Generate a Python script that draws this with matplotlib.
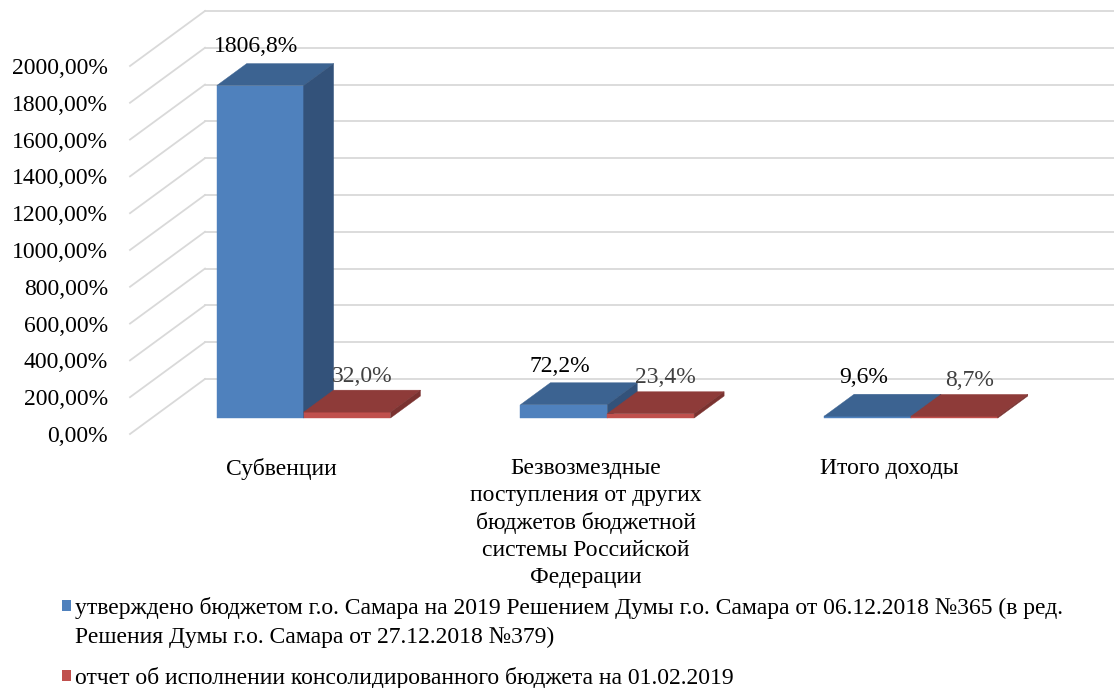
import matplotlib.pyplot as plt
from matplotlib.patches import Polygon, Rectangle

plt.rcParams['font.family'] = ['Liberation Serif', 'DejaVu Serif']

categories = ["Субвенции",
              "Безвозмездные\nпоступления от других\nбюджетов бюджетной\nсистемы Российской\nФедерации",
              "Итого доходы"]
approved = [1806.8, 72.2, 9.6]
report = [32.0, 23.4, 8.7]
approved_lbl = ["1806,8%", "72,2%", "9,6%"]
report_lbl = ["32,0%", "23,4%", "8,7%"]
yticks = list(range(0, 2001, 200))
series_names = ["утверждено бюджетом г.о. Самара на 2019 Решением Думы г.о. Самара от 06.12.2018 №365 (в ред.\n"
                "Решения Думы г.о. Самара от 27.12.2018 №379)",
                "отчет об исполнении консолидированного бюджета на 01.02.2019"]

# colours (front, top, side)
blue = ("#4F81BD", "#3C6391", "#33527A")
red = ("#C0504D", "#8E3B39", "#7A3230")
grid_c = "#D9D9D9"

# full depth of the 3d box in data units, and where the bars sit in it
DX = 0.247
DY = 299.0
D0, D1 = 0.29, 0.69
BW = 0.286

fig = plt.figure(figsize=(11.14, 6.88), dpi=100)
ax = fig.add_axes([0.1167, 0.3692, 0.8178, 0.5349])
ax.set_xlim(0, 3)
ax.set_ylim(0, 2000)
for s in ax.spines.values():
    s.set_visible(False)

# walls: side wall slants + back wall lines
for v in yticks:
    ax.plot([0, DX], [v, v + DY], color=grid_c, lw=1.3, clip_on=False, zorder=1)
    ax.plot([DX, 3 + DX], [v + DY, v + DY], color=grid_c, lw=1.3, clip_on=False, zorder=1)


def bar3d(x0, w, h, cols, z):
    ox0, oy0 = D0 * DX, D0 * DY
    ox1, oy1 = D1 * DX, D1 * DY
    front = [(x0 + ox0, oy0), (x0 + w + ox0, oy0), (x0 + w + ox0, h + oy0), (x0 + ox0, h + oy0)]
    top = [(x0 + ox0, h + oy0), (x0 + w + ox0, h + oy0), (x0 + w + ox1, h + oy1), (x0 + ox1, h + oy1)]
    side = [(x0 + w + ox0, oy0), (x0 + w + ox1, oy1), (x0 + w + ox1, h + oy1), (x0 + w + ox0, h + oy0)]
    for pts, c in zip([front, top, side], cols):
        ax.add_patch(Polygon(pts, closed=True, facecolor=c, edgecolor=c, lw=0.3,
                             clip_on=False, zorder=z))


for i in range(len(categories)):
    xb = i + 0.5 - BW
    xr = i + 0.5
    bar3d(xb, BW, approved[i], blue, 3 + 2 * i)
    bar3d(xr, BW, report[i], red, 4 + 2 * i)
    ax.annotate(approved_lbl[i], (xb + BW / 2 + D0 * DX, approved[i] + D1 * DY),
                xytext=(-3, 12), textcoords="offset points", ha="center", va="center",
                fontsize=17, color="#000000", annotation_clip=False, zorder=20)
    ax.annotate(report_lbl[i], (xr + BW / 2 + 0.5 * (D0 + D1) * DX, report[i] + D1 * DY),
                xytext=(0, 10), textcoords="offset points", ha="center", va="center",
                fontsize=17, color="#404040", annotation_clip=False, zorder=20)

ax.set_yticks(yticks)
ax.set_yticklabels(["%d,00%%" % v for v in yticks], fontsize=17)
ax.set_xticks([0.5, 1.5, 2.5])
ax.set_xticklabels(categories, fontsize=17, linespacing=1.38)
ax.tick_params(axis="y", length=0, pad=16)
ax.tick_params(axis="x", length=0, pad=17)

# legend
for k, (name, cols) in enumerate(zip(series_names, [blue, red])):
    ytop = [0.12, 0.018][k]
    fig.add_artist(Rectangle((0.0557, ytop - 0.008), 0.0081, 0.016, transform=fig.transFigure,
                             facecolor=cols[0], edgecolor="none"))
    fig.text(0.0673, ytop + 0.012, name, fontsize=17, va="top", ha="left", linespacing=1.45)

fig.savefig("out.png", dpi=100)
